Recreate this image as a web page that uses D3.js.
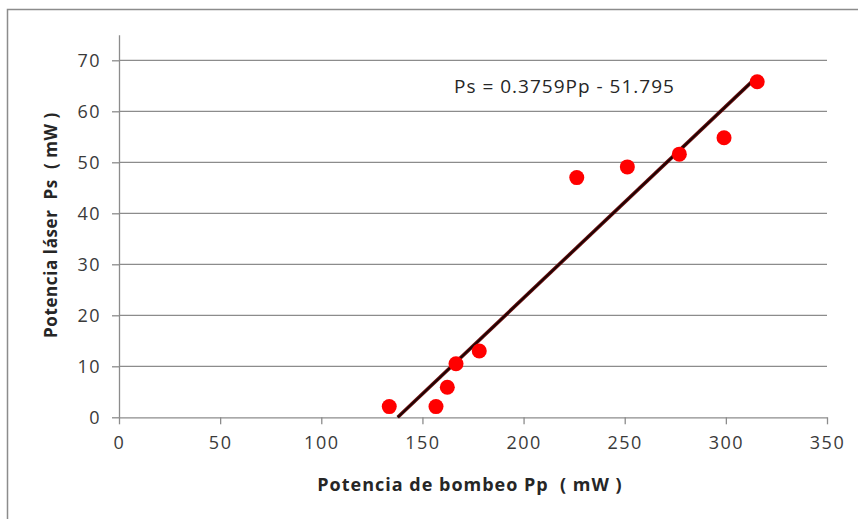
<!DOCTYPE html>
<html><head><meta charset="utf-8">
<script src="https://cdn.jsdelivr.net/npm/d3@7"></script>
<style>body{margin:0;background:#fff}svg{display:block}text{white-space:pre}</style>
</head><body><svg id="c" width="858" height="519"></svg>
<script>
const pumpPower = [133.6, 156.7, 162.3, 166.6, 178.1, 226.3, 251.3, 277.0, 299.1, 315.5];
const laserPower = [2.1, 2.1, 5.9, 10.5, 13.0, 47.0, 49.1, 51.6, 54.8, 65.8];
const xTicks = [0, 50, 100, 150, 200, 250, 300, 350];
const yTicks = [0, 10, 20, 30, 40, 50, 60, 70];
const slope = 0.3759, intercept = -51.795;
const equationLabel = "Ps = 0.3759Pp - 51.795";
const xTitle = "Potencia de bombeo Pp  ( mW )";
const yTitle = "Potencia láser  Ps  ( mW )";

const svg = d3.select("#c");
const font = "'Open Sans', 'Noto Sans', sans-serif";
svg.append("rect").attr("x",7.5).attr("y",9.5).attr("width",870).attr("height",530)
  .attr("fill","none").attr("stroke","#8c8c8c").attr("stroke-width",1.5);

const x = d3.scaleLinear().domain([0,350]).range([119,827]);
const y = d3.scaleLinear().domain([0,75]).range([417.3,34.8]);

// gridlines
svg.append("g").selectAll("line").data(yTicks.filter(d=>d>0)).join("line")
  .attr("x1",x(0)).attr("x2",x(350)).attr("y1",d=>y(d)).attr("y2",d=>y(d))
  .attr("stroke","#8c8c8c").attr("stroke-width",1.3);

// y axis
const ya = svg.append("g").attr("transform",`translate(${x(0)},0)`)
  .call(d3.axisLeft(y).tickValues(yTicks).tickSize(7).tickPadding(11).tickSizeOuter(0));
ya.select(".domain").attr("stroke","#8c8c8c").attr("stroke-width",1.3);
ya.selectAll(".tick line").attr("stroke","#8c8c8c").attr("stroke-width",1.3);
ya.selectAll("text").attr("font-family",font).attr("font-size",18).attr("letter-spacing",1.5).attr("fill","#3a3a3a");

// x axis
const xa = svg.append("g").attr("transform",`translate(0,${y(0)})`)
  .call(d3.axisBottom(x).tickValues(xTicks).tickSize(7).tickPadding(12).tickSizeOuter(0));
xa.select(".domain").attr("stroke","#8c8c8c").attr("stroke-width",1.3);
xa.selectAll(".tick line").attr("stroke","#8c8c8c").attr("stroke-width",1.3);
xa.selectAll("text").attr("font-family",font).attr("font-size",18).attr("letter-spacing",1.5).attr("fill","#3a3a3a");

// trendline
const x0 = -intercept/slope, x1 = d3.max(pumpPower);
svg.append("line").attr("x1",x(x0)).attr("y1",y(0)).attr("x2",x(x1)).attr("y2",y(slope*x1+intercept))
  .attr("stroke","#6a0c0c").attr("stroke-width",3.6);
svg.append("line").attr("x1",x(x0)).attr("y1",y(0)).attr("x2",x(x1)).attr("y2",y(slope*x1+intercept))
  .attr("stroke","#1a0505").attr("stroke-width",1.8);

// points
svg.append("g").selectAll("circle").data(pumpPower.map((p,i)=>[p,laserPower[i]])).join("circle")
  .attr("cx",d=>x(d[0])).attr("cy",d=>y(d[1])).attr("r",7.5).attr("fill","#ff0000");

svg.append("text").attr("x",454).attr("y",93).attr("font-family",font).attr("font-size",19)
  .attr("letter-spacing",1).attr("fill","#262626").text(equationLabel);

svg.append("text").attr("x",470).attr("y",491).attr("text-anchor","middle").attr("font-family",font)
  .attr("font-size",18).attr("letter-spacing",1).attr("font-weight","bold").attr("fill","#262626").text(xTitle);

svg.append("text").attr("transform","translate(57,225) rotate(-90)").attr("text-anchor","middle")
  .attr("font-family",font).attr("font-size",17).attr("letter-spacing",0.6).attr("font-weight","bold").attr("fill","#262626").text(yTitle);
</script></body></html>
